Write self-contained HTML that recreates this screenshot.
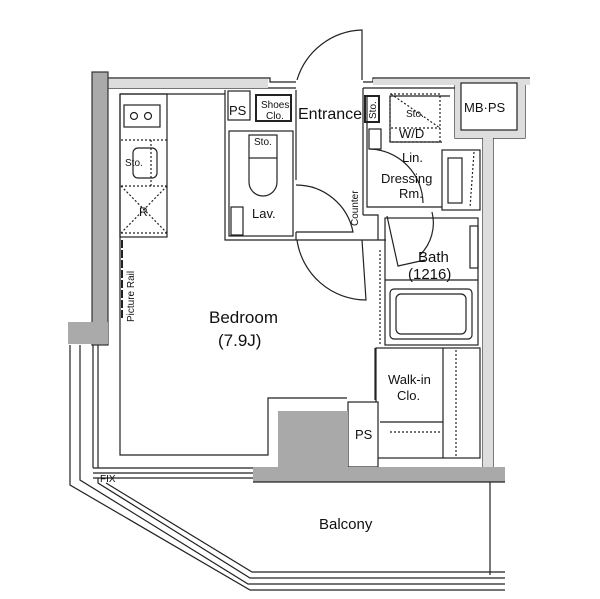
<!DOCTYPE html>
<html><head><style>
html,body{margin:0;padding:0;background:#fff;}
svg{display:block;}
text{font-family:"Liberation Sans",Arial,sans-serif;fill:#111;}
</style></head><body>
<svg width="600" height="599" viewBox="0 0 600 599" xmlns="http://www.w3.org/2000/svg">
<g fill="none" stroke="#222" stroke-width="1.2">
<path d="M108 78 H270 V82 H296 M363 82 H373 V78 H530" />
<path d="M108 88 H296 M363 88 H455" />
<rect x="108" y="79" width="160" height="9" fill="#ddd" stroke="none"/>
<rect x="373" y="79" width="157" height="6" fill="#ddd" stroke="none"/>
<rect x="92" y="72" width="16" height="273" fill="#aaa" stroke="#333"/>
<rect x="68" y="322" width="40" height="22" fill="#aaa" stroke="none"/>
<path d="M455 85 V138 H483 V470 M493 138 V470 M493 138 H525 V85" />
<rect x="455" y="85" width="70" height="53" fill="#ddd" stroke="none"/>
<rect x="483" y="138" width="10" height="332" fill="#ddd" stroke="none"/>
<rect x="461" y="83" width="56" height="47" fill="#fff"/>
<path d="M120 94 V455 H268 V398 H347" />
<path d="M120 94 H225" />
<rect x="120" y="94" width="47" height="143"/>
<rect x="124" y="105" width="36" height="22"/>
<circle cx="134" cy="116" r="3.5"/><circle cx="148" cy="116" r="3.5"/>
<rect x="133" y="148" width="24" height="30" rx="5"/>
<g stroke-dasharray="2,2"><path d="M121 140 H167 M151 140 V186 M121 186 H167 M121 233 H167 M121 186 L167 233 M167 186 L121 233"/></g>
<path d="M122 240 V320" stroke-width="2" stroke-dasharray="8,2"/>
<path d="M225 90 V240 H296 M296 90 V180 M296 232 V240" />
<rect x="228" y="91" width="22" height="29"/>
<rect x="256" y="95" width="35" height="26" stroke-width="2"/>
<rect x="229" y="131" width="64" height="105"/>
<rect x="249" y="135" width="28" height="23"/>
<path d="M249 158 V182 a14 14 0 0 0 28 0 V158"/>
<rect x="231" y="207" width="12" height="28"/>
<path d="M296 185 a58 58 0 0 1 57 47 H296" />
<path d="M297 80 A70 70 0 0 1 362 30 V80"/>
<path d="M297 240 A70 70 0 0 0 366 300 L362 240"/>
<path d="M363 88 V215 M296 240 H386 M363 215 H378 V240" />
<rect x="365" y="96" width="14" height="26" stroke-width="2"/>
<path d="M367 96 V207 H442 M450 96 H390 V142 H442" />
<rect x="390" y="94" width="50" height="48" stroke-dasharray="2,2"/>
<path d="M391 94 L440 128" stroke-dasharray="2,2"/>
<path d="M391 128 H440" stroke-dasharray="2,2"/>
<rect x="369" y="129" width="12" height="20"/>
<path d="M370 149 A55 55 0 0 1 423 203"/>
<rect x="442" y="150" width="38" height="60"/>
<rect x="448" y="158" width="14" height="45"/>
<path d="M474 152 L470 208" stroke-dasharray="2,2"/>
<rect x="385" y="218" width="93" height="127"/>
<path d="M385 280 H478"/>
<path d="M387 216 L398 266 L425 260 M432 212 A45 45 0 0 1 420 255"/>
<rect x="470" y="226" width="8" height="42"/>
<rect x="390" y="289" width="82" height="50" rx="4"/>
<rect x="396" y="294" width="70" height="40" rx="5"/>
<path d="M380 250 V345" stroke-dasharray="2,2"/>
<rect x="376" y="348" width="104" height="110"/>
<path d="M443 348 V458 M380 422 H443"/>
<path d="M456 350 V456" stroke-dasharray="2,2"/>
<path d="M390 432 H440" stroke-dasharray="2,2"/>
<path d="M375 348 V400"/>
<rect x="348" y="402" width="30" height="65" fill="#fff"/>
<rect x="278" y="411" width="70" height="71" fill="#a9a9a9" stroke="none"/>
<rect x="253" y="467" width="252" height="15" fill="#a9a9a9" stroke="none"/>
<path d="M253 482 H505"/>
<path d="M93 468 H253 M93 473 H253 M93 345 V468 M98 345 V468"/>
<path d="M93 478 H253"/>
<path d="M70 345 V485 L250 590 H505"/>
<path d="M80 345 V480 L248 584 H505"/>
<path d="M98 478 V483 L250 578 H505"/>
<path d="M106 483 L252 572 H505"/>
<path d="M490 482 V575"/>
</g>
<g font-size="17">
<text x="209" y="323">Bedroom</text>
<text x="218" y="346">(7.9J)</text>
<text x="319" y="529" font-size="15">Balcony</text>
</g>
<g font-size="13">
<text x="229" y="115">PS</text>
<text x="298" y="119" font-size="16">Entrance</text>
<text x="252" y="218">Lav.</text>
<text x="464" y="112">MB·PS</text>
<text x="418" y="262" font-size="15">Bath</text>
<text x="408" y="279" font-size="15">(1216)</text>
<text x="388" y="384">Walk-in</text>
<text x="397" y="400">Clo.</text>
<text x="355" y="439">PS</text>
<text x="399" y="138">W/D</text>
<text x="381" y="183">Dressing</text>
<text x="399" y="198">Rm.</text>
<text x="402" y="162">Lin.</text>
</g>
<g font-size="10">
<text x="261" y="108">Shoes</text><text x="266" y="119">Clo.</text>
<text x="406" y="117">Sto.</text>
<text x="254" y="145">Sto.</text>
<text x="125" y="166">Sto.</text>
<text x="139" y="216" font-size="12">R</text>
<text x="100" y="482">FIX</text>
<text transform="translate(376,119) rotate(-90)">Sto.</text>
<text transform="translate(358,226) rotate(-90)">Counter</text>
<text transform="translate(134,322) rotate(-90)">Picture Rail</text>
</g>
</svg>
</body></html>
